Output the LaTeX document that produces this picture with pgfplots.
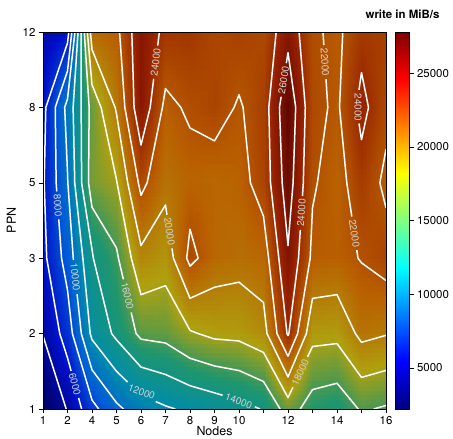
\documentclass[border=0pt]{standalone}
\usepackage{fontspec}
\setmainfont{TeX Gyre Heros}
\usepackage{pgfplots}
\pgfplotsset{compat=1.18}
\usepackage{pgfplotstable}
\usepgfplotslibrary{patchplots}
\pgfplotsset{/pgf/number format/assume math mode=true}
\pgfplotsset{
  colormap={dimjet}{rgb255(0cm)=(0,0,100) rgb255(1cm)=(0,15,200) rgb255(2cm)=(0,90,215) rgb255(3cm)=(0,140,170) rgb255(4cm)=(30,150,110) rgb255(5cm)=(175,160,15) rgb255(6cm)=(185,95,0) rgb255(7cm)=(150,32,0) rgb255(8cm)=(95,5,0)}
}
\pgfplotstableread{
i j v
0 0 2200
1 0 4100
2 0 7400
3 0 9600
4 0 11000
5 0 11800
6 0 12300
7 0 12800
8 0 13400
9 0 14100
10 0 16900
11 0 15100
12 0 14700
13 0 16200
14 0 15800
0 1 4050
1 1 6900
2 1 12400
3 1 14400
4 1 16400
5 1 16600
6 1 17800
7 1 18400
8 1 18500
9 1 19300
10 1 24200
11 1 18600
12 1 18500
13 1 20500
14 1 20100
0 2 5500
1 2 8800
2 2 13900
3 2 15700
4 2 19500
5 2 18800
6 2 22500
7 2 21000
8 2 20700
9 2 21000
10 2 25800
11 2 21600
12 2 21400
13 2 22100
14 2 22800
0 3 5800
1 3 9900
2 3 17000
3 3 17900
4 3 22500
5 3 20500
6 3 21200
7 3 21000
8 3 21300
9 3 22800
10 3 27000
11 3 22200
12 3 21200
13 3 23200
14 3 21600
0 4 5400
1 4 10600
2 4 16700
3 4 20200
4 4 25500
5 4 21500
6 4 22300
7 4 22800
8 4 21800
9 4 23000
10 4 27600
11 4 22500
12 4 21700
13 4 24600
14 4 22500
0 5 4600
1 5 5200
2 5 21000
3 5 21500
4 5 25500
5 5 23500
6 5 23500
7 5 22600
8 5 23000
9 5 22500
10 5 25400
11 5 22300
12 5 21600
13 5 23300
14 5 23000
}\gridtable
\begin{document}
\begin{tikzpicture}[
  cl/.style={white, line width=1.5bp, no markers, line join=round},
  lbl/.style={font=\fontsize{10}{12}\selectfont, text=white!82!black, inner sep=0pt}]
\begin{axis}[
  view={0}{90},
  scale only axis, width=343bp, height=377bp,
  xmin=0, xmax=14, ymin=0, ymax=5,
  colormap/jet,
  point meta min=2200, point meta max=27800,
  xtick={0,...,14}, xticklabels={1,2,4,5,6,7,8,9,10,,12,,14,,16},
  ytick={0,...,5}, yticklabels={1,2,3,5,8,12},
  tick align=outside, major tick length=4bp,
  xtick pos=left, ytick pos=left,
  tick style={black, line width=0.5bp},
  axis line style={line width=0.6bp},
  xlabel={Nodes}, ylabel={PPN},
  xlabel style={yshift=5bp},
  tick label style={font=\fontsize{11.5}{14}\selectfont},
  label style={font=\fontsize{12.5}{15}\selectfont},
  colorbar,
  colorbar style={
    at={(parent axis.north east)}, anchor=north west, xshift=1bp,
    width=14bp,
    ytick={5000,10000,15000,20000,25000},
    scaled y ticks=false,
    yticklabel style={font=\fontsize{11.5}{14}\selectfont, /pgf/number format/fixed, /pgf/number format/1000 sep={}},
    tick align=outside, major tick length=4bp,
    ytick pos=right,
    title={\bfseries write in MiB/s},
    title style={font=\fontsize{11.5}{14}\selectfont, yshift=4bp},
  },
]
\addplot3[surf, shader=interp, patch type=bilinear, colormap name=dimjet, mesh/rows=6, mesh/cols=15] table[x=i,y=j,z=v] {\gridtable};
% 4000
\addplot3[cl] coordinates {(0,0.973,0) (0.947,0,0)};
% 6000
\addplot3[cl] coordinates {(1.576,0,0) (1.452,0.147,0)};
\addplot3[cl] coordinates {(1.147,0.505,0) (1,0.679,0) (0.684,1,0) (0.152,2,0) (0.049,3,0) (0.115,4,0) (1,4.852,0) (1.051,5,0)};
% 8000
\addplot3[cl] coordinates {(2.273,0,0) (2,0.12,0) (1.2,1,0) (1,1.579,0) (0.758,2,0) (0.644,2.515,0)};
\addplot3[cl] coordinates {(0.562,2.885,0) (0.537,3,0) (0.5,4,0) (1,4.481,0) (1.177,5,0)};
% 10000
\addplot3[cl] coordinates {(3.286,0,0) (3,0.083,0) (2,0.52,0) (1.564,1,0) (1.391,1.526,0)};
\addplot3[cl] coordinates {(1.244,1.974,0) (1.235,2,0) (1.014,3,0) (1,3.143,0) (0.885,4,0) (1,4.111,0) (1.304,5,0)};
% 12000
\addplot3[cl] coordinates {(5.4,0,0) (5,0.042,0) (4.6,0.099,0)};
\addplot3[cl] coordinates {(3.45,0.358,0) (3,0.5,0) (2,0.92,0) (1.927,1,0) (1.627,2,0) (1.296,3,0) (1.230,4,0) (1.430,5,0)};
% 14000
\addplot3[cl] coordinates {(8.857,0,0) (8.643,0.0295,0)};
\addplot3[cl] coordinates {(7.33,0.182,0) (7,0.214,0) (6,0.309,0) (5,0.458,0) (4,0.556,0) (3,0.917,0) (2.8,1,0) (2.056,2,0) (1.577,3,0) (1.557,4,0) (1.557,5,0)};
% 16000
\addplot3[cl] coordinates {(1.684,5,0) (1.885,4,0) (1.859,3,0) (2,2.677,0) (3,2.136,0) (3.079,2,0) (3.281,1.72,0)};
\addplot3[cl] coordinates {(3.598,1.28,0) (3.8,1,0) (4,0.926,0) (5,0.875,0) (6,0.673,0) (7,0.571,0) (8,0.51,0) (9,0.365,0) (9.679,0,0)};
\addplot3[cl] coordinates {(10.5,0,0) (11,0.257,0) (12,0.342,0) (12.867,0,0)};
\addplot3[cl] coordinates {(13.5,0,0) (14,0.047,0)};
% 18000
\addplot3[cl] coordinates {(1.810,5,0) (2,4.302,0) (2.371,4,0) (3,3.043,0) (3.022,3,0) (3.605,2,0) (4,1.516,0) (5,1.636,0) (6,1.043,0) (6.333,1,0) (7,0.929,0) (8,0.902,0) (9,0.75,0) (10,0.151,0) (10.2,0.287,0)};
\addplot3[cl] coordinates {(10.8,0.693,0) (11,0.829,0) (12,0.868,0) (13,0.419,0) (14,0.512,0)};
% 20000
\addplot3[cl] coordinates {(1.937,5,0) (2,4.767,0) (2.943,4,0) (3,3.913,0) (3.457,3,0) (4,2.167,0) (5,2.706,0) (5.060,2.576,0)};
\addplot3[cl] coordinates {(5.264,2.130,0) (5.324,2,0) (6,1.468,0) (7,1.615,0) (8,1.682,0) (9,1.412,0) (9.143,1,0) (10,0.425,0) (10.75,1,0) (11,1.467,0) (12,1.517,0) (12.75,1,0) (13,0.884,0) (14,0.977,0)};
% 22000
\addplot3[cl] coordinates {(3.125,5,0) (3.34,4,0) (3.891,3,0) (4,2.833,0) (4.25,3,0) (4.875,4,0) (5,4.25,0) (5.625,4,0) (6,3.727,0) (7,3.556,0) (7.8,4,0) (8,4.167,0) (8.167,4,0) (8.467,3,0) (9,2.556,0) (9.208,2,0) (9.551,1,0) (10,0.699,0) (10.393,1,0) (10.905,2,0) (11,2.667,0) (11.2,3,0) (11.625,4,0) (11.551,4.375,0)};
\addplot3[cl] coordinates {(11.463,4.825,0) (11.429,5,0)};
\addplot3[cl] coordinates {(5.865,2,0) (6,1.894,0) (6.333,2,0) (6,2.385,0) (5.865,2,0)};
\addplot3[cl] coordinates {(14,1.704,0) (13,1.938,0) (12.857,2,0) (12.808,2.107,0)};
\addplot3[cl] coordinates {(12.604,2.553,0) (12.4,3,0) (12.103,4,0) (12.235,5,0)};
\addplot3[cl] coordinates {(14,2.667,0) (13.75,3,0) (14,3.444,0)};
% 24000
\addplot3[cl] coordinates {(3.625,5,0) (3.717,4,0) (4,3.5,0) (4.375,4,0) (4.518,4.38,0)};
\addplot3[cl] coordinates {(4.683,4.82,0) (4.75,5,0)};
\addplot3[cl] coordinates {(9.517,5,0) (9.217,4,0) (9.286,3,0) (9.625,2,0) (9.959,1,0) (10,0.973,0) (10.036,1,0) (10.429,2,0) (10.503,2.375,0)};
\addplot3[cl] coordinates {(10.591,2.825,0) (10.625,3,0) (10.706,4,0) (10.452,5,0)};
\addplot3[cl] coordinates {(12.897,3.786,0) (13,3.571,0) (13.286,4,0) (13,4.462,0) (12.897,4.231,0)};
% 26000
\addplot3[cl] coordinates {(9.932,4.586,0) (10,4.727,0) (10.314,4,0) (10.208,3,0) (10,2.167,0) (9.762,3,0) (9.652,4,0) (9.720,4.141,0)};
% labels
\node[lbl, rotate=-75] at (axis cs:1.300,0.326,0) {6000};
\node[lbl, rotate=-86] at (axis cs:0.603,2.7,0) {8000};
\node[lbl, rotate=-84] at (axis cs:1.317,1.75,0) {10000};
\node[lbl, rotate=-20] at (axis cs:4.025,0.228,0) {12000};
\node[lbl, rotate=-20] at (axis cs:7.987,0.106,0) {14000};
\node[lbl, rotate=-77] at (axis cs:3.44,1.5,0) {16000};
\node[lbl, rotate=64.5] at (axis cs:10.5,0.49,0) {18000};
\node[lbl, rotate=-81.6] at (axis cs:5.162,2.353,0) {20000};
\node[lbl, rotate=-86.4] at (axis cs:11.507,4.6,0) {22000};
\node[lbl, rotate=-81.6] at (axis cs:12.706,2.33,0) {22000};
\node[lbl, rotate=83] at (axis cs:4.6,4.6,0) {24000};
\node[lbl, rotate=86.4] at (axis cs:10.547,2.6,0) {24000};
\node[lbl, rotate=-90] at (axis cs:12.86,4.0,0) {24000};
\node[lbl, rotate=81] at (axis cs:9.826,4.364,0) {26000};
\end{axis}
\pgfresetboundingbox
\path[use as bounding box] (-43bp,-30bp) rectangle (410bp,409bp);
\end{tikzpicture}
\end{document}
